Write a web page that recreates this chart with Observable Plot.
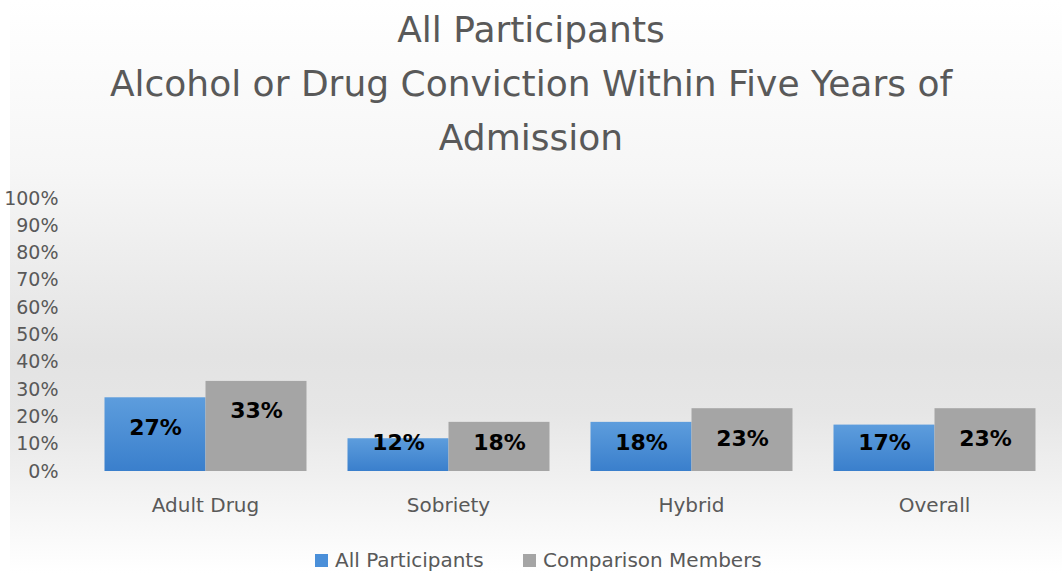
<!DOCTYPE html>
<html>
<head>
<meta charset="utf-8">
<script src="https://cdn.jsdelivr.net/npm/d3@7"></script>
<script src="https://cdn.jsdelivr.net/npm/@observablehq/plot@0.6"></script>
<style>
  html, body { margin: 0; padding: 0; background: #fff; }
  #chart {
    position: relative; width: 1062px; height: 573px; overflow: hidden;
    font-family: "DejaVu Sans", sans-serif; color: #595959;
  }
  #bg {
    position: absolute; left: 10px; top: 0; right: 0; bottom: 0;
    background: linear-gradient(to bottom, #ffffff 0%, #f6f6f6 30%, #e3e3e3 62%, #e6e6e6 72%, #f8f8f8 92%, #ffffff 100%);
  }
  #title {
    position: relative; height: 170px; padding-top: 3px; box-sizing: border-box;
    text-align: center; font-size: 36px; line-height: 54px; color: #595959;
  }
  #plot { position: relative; height: 361px; }
  #legend { position: relative; height: 42px; }
  .lg { position: absolute; top: 17px; display: flex; align-items: center; font-size: 20px; line-height: 24px; color: #595959; white-space: nowrap; }
  .sw { width: 13px; height: 13px; margin-right: 7px; }
</style>
</head>
<body>
<div id="chart">
  <div id="bg"></div>
  <div id="title"></div>
  <div id="plot"></div>
  <div id="legend"></div>
</div>
<script>
const titleLines = ["All Participants", "Alcohol or Drug Conviction Within Five Years of", "Admission"];
const categories = ["Adult Drug", "Sobriety", "Hybrid", "Overall"];
const series = ["All Participants", "Comparison Members"];
const allParticipants = [27, 12, 18, 17];
const comparisonMembers = [33, 18, 23, 23];
const yTicks = [0, 10, 20, 30, 40, 50, 60, 70, 80, 90, 100];
const seriesColors = ["#4a8fd9", "#a5a5a5"];

document.getElementById("title").innerHTML = titleLines.map(t => `<div>${t}</div>`).join("");

const rows = [];
categories.forEach((c, i) => {
  rows.push({category: c, series: series[0], value: allParticipants[i]});
  rows.push({category: c, series: series[1], value: comparisonMembers[i]});
});

const font = '"DejaVu Sans", sans-serif';

const plot = Plot.plot({
  width: 1062,
  height: 361,
  marginLeft: 83.5,
  marginRight: 6.5,
  marginTop: 28,
  marginBottom: 60,
  style: {background: "transparent", fontFamily: font, overflow: "visible"},
  fx: {domain: categories, paddingInner: 0.169, paddingOuter: 0.0844, label: null, axis: null},
  x: {domain: series, padding: 0, axis: null},
  y: {domain: [0, 100], label: null, axis: null},
  color: {domain: series, range: ["url(#blueGrad)", seriesColors[1]]},
  marks: [
    Plot.axisY({ticks: yTicks, tickFormat: d => d + "%", tickSize: 0, tickPadding: 46, fontSize: 19, fill: "#595959", label: null}),
    Plot.axisFx({anchor: "bottom", tickSize: 0, tickPadding: 26, fontSize: 20, fill: "#595959", label: null}),
    Plot.barY(rows, {fx: "category", x: "series", y: "value", fill: "series",
      style: {filter: "drop-shadow(5px 5px 5px rgba(0,0,0,0.22))"}}),
    Plot.text(rows, {fx: "category", x: "series", y: d => Math.max(d.value - 11, 10.3),
      text: d => d.value + "%", fill: "#000", fontWeight: "bold", fontSize: 22})
  ]
});

const ns = "http://www.w3.org/2000/svg";
const defs = document.createElementNS(ns, "defs");
defs.innerHTML = `<linearGradient id="blueGrad" x1="0" y1="0" x2="0" y2="1">
  <stop offset="0" stop-color="#5d9ddd"/><stop offset="1" stop-color="#3a7fcc"/></linearGradient>`;
plot.insertBefore(defs, plot.firstChild);
document.getElementById("plot").appendChild(plot);

// legend
const legendLeft = [315, 523];
const lg = document.getElementById("legend");
series.forEach((s, i) => {
  const item = document.createElement("div");
  item.className = "lg";
  item.style.left = legendLeft[i] + "px";
  item.innerHTML = `<span class="sw" style="background:${seriesColors[i]}"></span><span>${s}</span>`;
  lg.appendChild(item);
});
</script>
</body>
</html>
